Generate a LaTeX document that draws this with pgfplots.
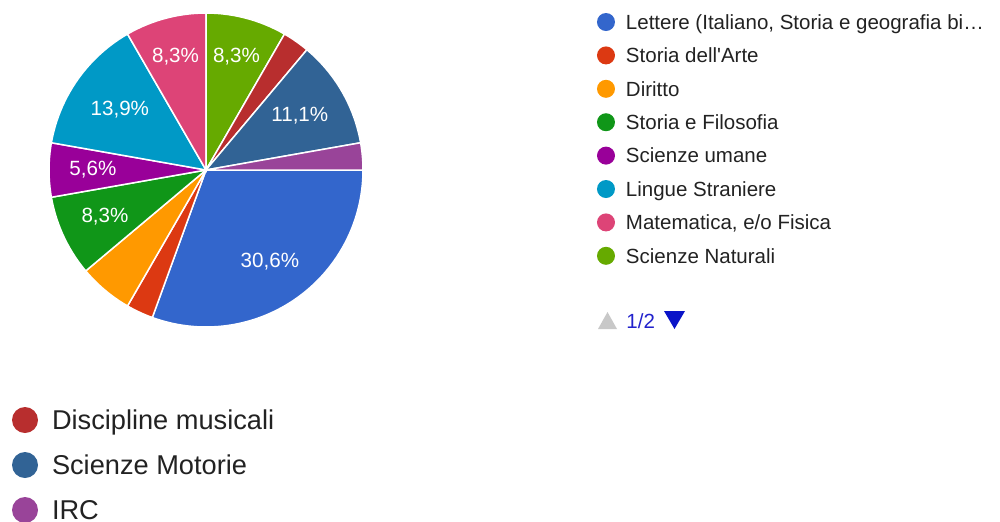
\documentclass[border=0pt]{standalone}
\usepackage{fontspec}
\setmainfont{Liberation Sans}
\usepackage{pgfplots}
\pgfplotsset{compat=1.18}
\definecolor{cLet}{HTML}{3366CC}
\definecolor{cArt}{HTML}{DC3912}
\definecolor{cDir}{HTML}{FF9900}
\definecolor{cFil}{HTML}{109618}
\definecolor{cUma}{HTML}{990099}
\definecolor{cLin}{HTML}{0099C6}
\definecolor{cMat}{HTML}{DD4477}
\definecolor{cNat}{HTML}{66AA00}
\definecolor{cMus}{HTML}{B82E2E}
\definecolor{cMot}{HTML}{316395}
\definecolor{cIRC}{HTML}{994499}
\definecolor{legtext}{HTML}{222222}
\definecolor{pagerblue}{HTML}{2222CC}
\definecolor{pagerdark}{HTML}{0A14C8}
\definecolor{pagergray}{HTML}{C8C8C8}
\begin{document}
\begin{tikzpicture}
\useasboundingbox (0pt,0pt) rectangle (500pt,-260.5pt);
% Answers (36 in all, 10 degrees each), clockwise from 3 o'clock:
% Lettere 11, Storia dell'Arte 1, Diritto 2, Storia e Filosofia 3, Scienze umane 2,
% Lingue Straniere 5, Matematica 3, Scienze Naturali 3, Discipline musicali 1,
% Scienze Motorie 4, IRC 1
\begin{axis}[at={(103pt,-85pt)}, anchor=center, scale only axis,
  width=157pt, height=157pt, xmin=-1, xmax=1, ymin=-1, ymax=1,
  hide axis, clip=false,
  legend image code/.code={\fill[#1] (4.5pt,0pt) circle (4.5pt); \path[draw=none,fill=none] (0pt,0pt) rectangle (14.5pt,0.1pt);},
  legend cell align=left,
  legend style={at={(axis description cs:1.7452,1.0087)}, anchor=north west,
    draw=none, fill=none, inner sep=0pt, outer sep=0pt, row sep=4.96pt,
    font=\fontsize{10.25pt}{12pt}\selectfont, text=legtext,
    nodes={inner sep=0pt, outer sep=0pt, text height=9.54pt, text depth=2.2pt}},
  slice/.style={draw=white, line width=0.75pt, forget plot}]
\addplot[slice, fill=cLet, domain=-110:0,   samples=60] ({cos(x)},{sin(x)}) -- (axis cs:0,0) -- cycle;
\addplot[slice, fill=cArt, domain=-120:-110, samples=8] ({cos(x)},{sin(x)}) -- (axis cs:0,0) -- cycle;
\addplot[slice, fill=cDir, domain=-140:-120, samples=12] ({cos(x)},{sin(x)}) -- (axis cs:0,0) -- cycle;
\addplot[slice, fill=cFil, domain=-170:-140, samples=16] ({cos(x)},{sin(x)}) -- (axis cs:0,0) -- cycle;
\addplot[slice, fill=cUma, domain=-190:-170, samples=12] ({cos(x)},{sin(x)}) -- (axis cs:0,0) -- cycle;
\addplot[slice, fill=cLin, domain=-240:-190, samples=26] ({cos(x)},{sin(x)}) -- (axis cs:0,0) -- cycle;
\addplot[slice, fill=cMat, domain=-270:-240, samples=16] ({cos(x)},{sin(x)}) -- (axis cs:0,0) -- cycle;
\addplot[slice, fill=cNat, domain=-300:-270, samples=16] ({cos(x)},{sin(x)}) -- (axis cs:0,0) -- cycle;
\addplot[slice, fill=cMus, domain=-310:-300, samples=8] ({cos(x)},{sin(x)}) -- (axis cs:0,0) -- cycle;
\addplot[slice, fill=cMot, domain=-350:-310, samples=22] ({cos(x)},{sin(x)}) -- (axis cs:0,0) -- cycle;
\addplot[slice, fill=cIRC, domain=-360:-350, samples=8] ({cos(x)},{sin(x)}) -- (axis cs:0,0) -- cycle;
\begin{scope}[every node/.style={text=white, font=\fontsize{10.3pt}{12pt}\selectfont}]
\node at (axis cs:{0.71*cos(-55)},{0.71*sin(-55)}) {30,6\%};
\node at (axis cs:{0.71*cos(-155)},{0.71*sin(-155)}) {8,3\%};
\node at (axis cs:{0.72*cos(-180)},{0.72*sin(-180)}) {5,6\%};
\node at (axis cs:{0.67*cos(145)},{0.67*sin(145)}) {13,9\%};
\node at (axis cs:{0.75*cos(105)},{0.75*sin(105)}) {8,3\%};
\node at (axis cs:{0.75*cos(75)},{0.75*sin(75)}) {8,3\%};
\node at (axis cs:{0.69*cos(30)},{0.69*sin(30)}) {11,1\%};
\end{scope}
\addlegendimage{fill=cLet, draw=none}\addlegendentry{Lettere (Italiano, Storia e geografia bi…}
\addlegendimage{fill=cArt, draw=none}\addlegendentry{Storia dell\textquotesingle Arte}
\addlegendimage{fill=cDir, draw=none}\addlegendentry{Diritto}
\addlegendimage{fill=cFil, draw=none}\addlegendentry{Storia e Filosofia}
\addlegendimage{fill=cUma, draw=none}\addlegendentry{Scienze umane}
\addlegendimage{fill=cLin, draw=none}\addlegendentry{Lingue Straniere}
\addlegendimage{fill=cMat, draw=none}\addlegendentry{Matematica, e/o Fisica}
\addlegendimage{fill=cNat, draw=none}\addlegendentry{Scienze Naturali}
\end{axis}
% pager of the legend
\fill[pagergray] (299pt,-164.5pt) -- (308.5pt,-164.5pt) -- (303.75pt,-156pt) -- cycle;
\node[anchor=base west, inner sep=0pt, text=pagerblue, font=\fontsize{10.25pt}{12pt}\selectfont] at (313pt,-164pt) {1/2};
\fill[pagerdark] (332pt,-155.5pt) -- (342.5pt,-155.5pt) -- (337.25pt,-164.5pt) -- cycle;
% second legend (rest of the entries)
\begin{axis}[at={(0pt,-195pt)}, anchor=north west, scale only axis,
  width=160pt, height=65.5pt, xmin=0, xmax=1, ymin=0, ymax=1, hide axis,
  legend image code/.code={\fill[#1] (6.5pt,0pt) circle (6.5pt); \path[draw=none,fill=none] (0pt,0pt) rectangle (20pt,0.1pt);},
  legend cell align=left,
  legend style={at={(axis description cs:0.0375,0.8911)}, anchor=north west,
    draw=none, fill=none, inner sep=0pt, outer sep=0pt, row sep=6.76pt,
    font=\fontsize{13.6pt}{16pt}\selectfont, text=legtext,
    nodes={inner sep=0pt, outer sep=0pt, text height=12.74pt, text depth=3pt}}]
\addlegendimage{fill=cMus, draw=none}\addlegendentry{Discipline musicali}
\addlegendimage{fill=cMot, draw=none}\addlegendentry{Scienze Motorie}
\addlegendimage{fill=cIRC, draw=none}\addlegendentry{IRC}
\end{axis}
\end{tikzpicture}
\end{document}
